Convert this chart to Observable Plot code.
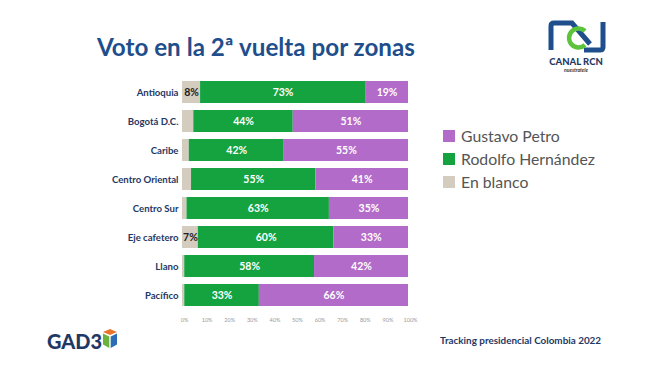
<!DOCTYPE html>
<html><head><meta charset="utf-8">
<script src="https://cdn.jsdelivr.net/npm/d3@7"></script>
<script src="https://cdn.jsdelivr.net/npm/@observablehq/plot@0.6"></script>
<style>
html,body{margin:0;padding:0;background:#fff;}
#page{position:relative;width:652px;height:366px;overflow:hidden;font-family:Lato,"Open Sans",sans-serif;}
#title{position:absolute;left:97px;top:32px;font-size:24.2px;font-weight:700;color:#1f4e8c;white-space:nowrap;}
#chart{position:absolute;left:0;top:60px;}
#legend{position:absolute;left:443px;top:124px;font-size:15.8px;color:#555;}
#legend div{display:flex;align-items:center;height:23px;}
#legend span.sw{display:inline-block;width:12px;height:12px;margin-right:6px;}
#footer{position:absolute;left:440px;top:334px;font-size:9.9px;font-weight:700;color:#1f3864;white-space:nowrap;}
#logos{position:absolute;left:0;top:0;}
</style></head>
<body><div id="page">
<div id="title">Voto en la 2ª vuelta por zonas</div>
<div id="chart"></div>
<div id="legend"></div>
<div id="footer">Tracking presidencial Colombia 2022</div>
<svg id="logos" width="652" height="366">
  <!-- RCN logo -->
  <path d="M551,50 V26 Q551,23 554,23 H572 L590,44" fill="none" stroke="#1f4e8c" stroke-width="5"/>
  <path d="M603,22 V47 Q603,50 600,50 H584" fill="none" stroke="#1f4e8c" stroke-width="5"/>
  <path d="M585,31 A9.5,9.5 0 1 0 585,45" fill="none" stroke="#5cc43c" stroke-width="4.5"/>
  <text x="576" y="65" text-anchor="middle" font-family="Lato" font-weight="900" font-size="9.5" fill="#1f3864">CANAL RCN</text>
  <text x="576" y="72" text-anchor="middle" font-family="Lato" font-style="italic" font-weight="700" font-size="5" fill="#333">nuestratele</text>
  <!-- GAD3 logo -->
  <text x="47" y="349" font-family="Lato" font-weight="900" font-size="20" fill="#1f3864" textLength="55" lengthAdjust="spacingAndGlyphs">GAD3</text>
  <path d="M110,329 L117,332 L110,335 L103,332 Z" fill="#e8742a"/>
  <path d="M103,333.5 L109.3,336.5 L109.3,348 L103,344.5 Z" fill="#6ab43e"/>
  <path d="M117,333.5 L110.7,336.5 L110.7,348 L117,344.5 Z" fill="#2a6db5"/>
</svg>
</div>
<script>
const zonas = ["Antioquia","Bogotá D.C.","Caribe","Centro Oriental","Centro Sur","Eje cafetero","Llano","Pacífico"];
const enBlanco = [8,5,3,4,2,7,1,1];
const hernandez = [73,44,42,55,63,60,58,33];
const petro = [19,51,55,41,35,33,42,66];
const series = ["En blanco","Rodolfo Hernández","Gustavo Petro"];
const colors = ["#d3ccbf","#15a33f","#b26bc8"];
const xTicks = [0,10,20,30,40,50,60,70,80,90,100];
const legendOrder = ["Gustavo Petro","Rodolfo Hernández","En blanco"];

const data = [];
zonas.forEach((z,i)=>{
  data.push({zona:z, serie:series[0], value:enBlanco[i]});
  data.push({zona:z, serie:series[1], value:hernandez[i]});
  data.push({zona:z, serie:series[2], value:petro[i]});
});

const stackOpts = {x:"value", y:"zona", z:"serie", order:series, offset:"normalize"};

const chart = Plot.plot({
  width: 420,
  height: 270,
  marginLeft: 182,
  marginRight: 12,
  marginTop: 12,
  marginBottom: 14,
  style: {fontFamily: "Lato, sans-serif", background: "transparent"},
  x: {domain:[0,1], ticks: xTicks.map(d=>d/100), tickFormat: d=>Math.round(d*100)+"%", label:null, tickSize:0, tickPadding:2},
  y: {domain: zonas, padding: 0.24, label:null, tickSize:0, tickPadding:4},
  color: {domain: series, range: colors},
  marks: [
    Plot.barX(data, Plot.stackX({...stackOpts, fill:"serie"})),
    Plot.textX(data, Plot.stackX({...stackOpts,
      text: d => (d.serie==="En blanco" && d.value < 7) ? null : d.value + "%",
      fill: d => d.serie==="En blanco" ? "#222" : "#fff",
      fontWeight: "bold", fontSize: 10.5})),
    Plot.axisX({ticks: xTicks.map(d=>d/100), tickFormat: d=>Math.round(d*100)+"%", tickSize:0, tickPadding:2, dx:2, fontSize:5.5, fill:"#999", label:null}),
    Plot.axisY({tickSize:0, tickPadding:4, fontSize:9.6, fontWeight:"bold", fill:"#1f3864", label:null})
  ]
});
document.getElementById("chart").appendChild(chart);

const leg = document.getElementById("legend");
legendOrder.forEach(s=>{
  const d = document.createElement("div");
  const sw = document.createElement("span");
  sw.className="sw"; sw.style.background = colors[series.indexOf(s)];
  d.appendChild(sw);
  d.appendChild(document.createTextNode(s));
  leg.appendChild(d);
});
</script>
</body></html>
